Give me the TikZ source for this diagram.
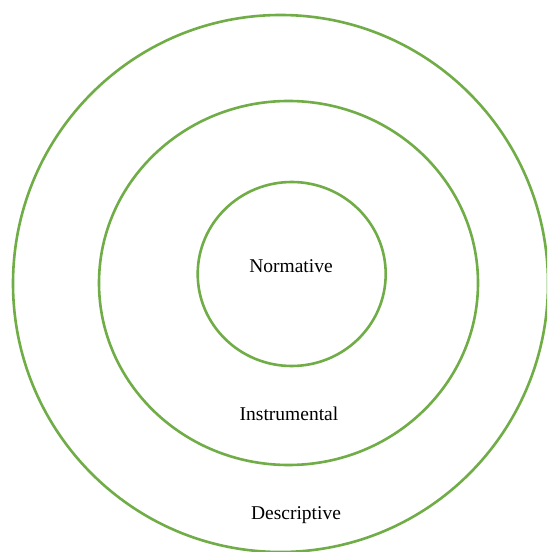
\documentclass[tikz,border=0pt]{standalone}
\usepackage{fontspec}
\setmainfont{Liberation Serif}
\usetikzlibrary{shapes.geometric}
\definecolor{ringgreen}{RGB}{112,173,71}
\tikzset{
  ring/.style={draw=ringgreen, line width=2.6pt, ellipse, inner sep=0pt},
  lbl/.style={font=\fontsize{19.5}{22}\selectfont, anchor=base, inner sep=0pt}
}
\begin{document}
\begin{tikzpicture}[x=1pt,y=1pt]
\useasboundingbox (0,0) rectangle (547,552);
\clip (0,0) rectangle (547,552);
\fill[white] (0,0) rectangle (547,552);
\node[ring, minimum width=535pt, minimum height=537pt] (outer) at (280.5,268.5) {};
\node[ring, minimum width=379pt, minimum height=364pt] (middle) at (288.5,269) {};
\node[ring, minimum width=188pt, minimum height=184pt] (inner) at (291.7,278) {};
\node[lbl] (norm) at (291,279) {Normative};
\node[lbl] (instr) at (289,131) {Instrumental};
\node[lbl] (desc) at (296,32) {Descriptive};
\end{tikzpicture}
\end{document}
